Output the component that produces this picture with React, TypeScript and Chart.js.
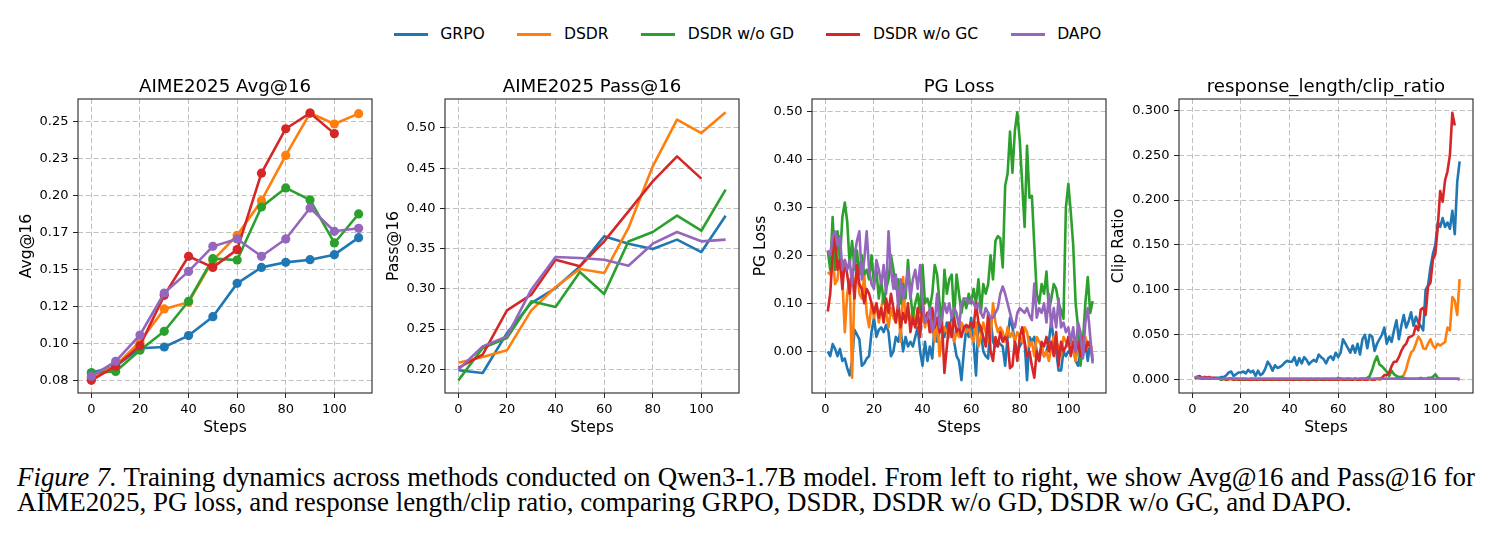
import React, { useEffect, useRef } from "react";
import { Chart, registerables } from "chart.js";

Chart.register(...registerables);

const FONT = "'DejaVu Sans', sans-serif";

const seriesNames = ["GRPO", "DSDR", "DSDR w/o GD", "DSDR w/o GC", "DAPO"];
const seriesColors = ["#1f77b4", "#ff7f0e", "#2ca02c", "#d62728", "#9467bd"];

// ---------- evaluation (every 10 steps) ----------
const evalSteps = [0, 10, 20, 30, 40, 50, 60, 70, 80, 90, 100, 110];

const avgGRPO = [0.080, 0.0845, 0.0966, 0.0975, 0.1052, 0.118, 0.1405, 0.1513, 0.1547, 0.1565, 0.1599, 0.1714];
const avgDSDR = [0.0766, 0.085, 0.101, 0.1232, 0.1277, 0.156, 0.173, 0.1964, 0.227, 0.2556, 0.2482, 0.2552];
const avgGD = [0.080, 0.081, 0.0953, 0.1081, 0.1284, 0.1572, 0.1563, 0.1921, 0.205, 0.1969, 0.1678, 0.1874];
const avgGC = [0.075, 0.0845, 0.0984, 0.1324, 0.1588, 0.1513, 0.1633, 0.215, 0.245, 0.2556, 0.2417];
const avgDAPO = [0.0777, 0.0878, 0.1056, 0.134, 0.1486, 0.1655, 0.1705, 0.1588, 0.1705, 0.1914, 0.1757, 0.1777];

const passGRPO = [0.1988, 0.1954, 0.245, 0.2824, 0.301, 0.328, 0.3653, 0.356, 0.3495, 0.3612, 0.3458, 0.391];
const passDSDR = [0.2083, 0.2153, 0.2236, 0.2733, 0.3023, 0.3247, 0.3197, 0.3757, 0.4523, 0.5103, 0.4937, 0.5194];
const passGD = [0.1863, 0.2265, 0.2389, 0.2845, 0.2775, 0.321, 0.2936, 0.359, 0.3707, 0.391, 0.3723, 0.4233];
const passGC = [0.2017, 0.2182, 0.2733, 0.2928, 0.3363, 0.328, 0.3591, 0.3964, 0.4337, 0.4647, 0.437];
const passDAPO = [0.1996, 0.2286, 0.241, 0.299, 0.3396, 0.3384, 0.3363, 0.3288, 0.3562, 0.3707, 0.3591, 0.3612];

// ---------- training (every step) ----------
const trainSteps = [
  1, 2, 3, 4, 5, 6, 7, 8, 9, 10, 11, 12, 13, 14, 15, 16, 17, 18, 19, 20,
  21, 22, 23, 24, 25, 26, 27, 28, 29, 30, 31, 32, 33, 34, 35, 36, 37, 38, 39, 40,
  41, 42, 43, 44, 45, 46, 47, 48, 49, 50, 51, 52, 53, 54, 55, 56, 57, 58, 59, 60,
  61, 62, 63, 64, 65, 66, 67, 68, 69, 70, 71, 72, 73, 74, 75, 76, 77, 78, 79, 80,
  81, 82, 83, 84, 85, 86, 87, 88, 89, 90, 91, 92, 93, 94, 95, 96, 97, 98, 99, 100,
  101, 102, 103, 104, 105, 106, 107, 108, 109, 110,
];

const pgGRPO = [
  0.0, -0.01, 0.015, 0.005, -0.01, 0.005, -0.02, -0.015, -0.035, -0.05,
  -0.02, 0.045, 0.035, 0.025, -0.03, -0.025, -0.015, -0.01, 0.04, 0.07,
  0.03, 0.045, 0.05, 0.04, 0.055, 0.04, -0.01, 0.0, 0.03, 0.02,
  0.045, 0.0, 0.03, 0.01, 0.02, 0.01, 0.03, 0.05, 0.0, -0.03,
  0.02, -0.02, 0.01, -0.015, 0.06, 0.02, 0.04, 0.05, 0.03, 0.06,
  0.03, 0.07, 0.02, -0.01, -0.02, -0.06, 0.0, 0.05, 0.03, 0.07,
  0.02, -0.05, 0.06, 0.04, 0.0, -0.01, -0.015, 0.07, 0.02, 0.01,
  0.02, 0.015, 0.01, -0.03, 0.03, 0.07, 0.05, 0.02, 0.0, 0.01,
  0.02, 0.02, -0.06, 0.03, 0.02, 0.03, 0.0, -0.02, 0.01, -0.01,
  0.0, 0.02, 0.065, 0.02, 0.0, -0.04, -0.04, 0.0, -0.01, 0.0,
  -0.005, 0.02, -0.02, -0.03, 0.0, -0.01, 0.02, -0.02, 0.02, -0.02,
];
const pgDSDR = [
  0.165, 0.16, 0.2, 0.14, 0.15, 0.2, 0.15, 0.04, 0.12, 0.15,
  -0.055, 0.14, 0.17, 0.12, 0.11, 0.16, 0.08, 0.05, 0.1, 0.07,
  0.1, 0.06, 0.09, 0.12, 0.08, 0.05, 0.09, 0.07, 0.06, 0.1,
  0.02, 0.155, 0.06, 0.08, 0.06, 0.09, 0.05, 0.07, 0.04, 0.09,
  0.05, 0.08, 0.04, 0.06, 0.02, 0.07, -0.01, 0.03, 0.05, 0.04,
  0.03, 0.06, 0.02, 0.04, 0.03, 0.06, 0.05, 0.04, 0.05, 0.03,
  0.02, 0.06, 0.01, 0.03, 0.06, 0.04, 0.02, 0.03, 0.1, 0.06,
  0.04, 0.05, 0.04, 0.02, 0.05, 0.03, 0.04, 0.02, 0.04, 0.03,
  0.02, 0.05, 0.04, 0.01, 0.02, -0.01, 0.03, 0.02, 0.01, -0.01,
  0.0, -0.02, 0.01, 0.03, 0.02, 0.01, -0.01, 0.03, 0.02, 0.01,
  0.03, 0.0, -0.02, 0.01, 0.02, 0.0, 0.03, 0.01, 0.02, -0.01,
];
const pgGD = [
  0.21, 0.17, 0.28, 0.17, 0.25, 0.19, 0.28, 0.31, 0.27, 0.18,
  0.23, 0.17, 0.21, 0.16, 0.2, 0.16, 0.17, 0.15, 0.2, 0.14,
  0.17, 0.11, 0.15, 0.1, 0.13, 0.15, 0.2, 0.17, 0.13, 0.15,
  0.1, 0.14, 0.11, 0.19, 0.12, 0.07, 0.1, 0.12, 0.08, 0.18,
  0.1, 0.11, 0.09, 0.12, 0.18, 0.16, 0.1, 0.06, 0.17, 0.12,
  0.15, 0.16, 0.07, 0.16, 0.12, 0.08, 0.11, 0.09, 0.12, 0.1,
  0.13, 0.1, 0.15, 0.08, 0.14, 0.12, 0.14, 0.2, 0.15, 0.23,
  0.24, 0.235, 0.175, 0.345, 0.37, 0.458, 0.372, 0.46, 0.498, 0.44,
  0.35, 0.259, 0.428, 0.32, 0.324, 0.22, 0.12, 0.1, 0.14, 0.12,
  0.166, 0.083, 0.11, 0.14, 0.13, 0.1, 0.085, 0.068, 0.3, 0.349,
  0.29, 0.222, 0.1, 0.05, -0.03, 0.02, 0.1, 0.155, 0.08, 0.105,
];
const pgGC = [
  0.083, 0.12, 0.2, 0.24, 0.17, 0.19, 0.13, 0.19, 0.16, 0.12,
  0.17, 0.11, 0.18, 0.14, 0.13, 0.1, 0.13, 0.12, 0.1, 0.08,
  0.1, 0.07, 0.09, 0.06, 0.11, 0.08, 0.12, 0.09, 0.06, 0.1,
  0.05, 0.08, 0.06, 0.1, 0.04, 0.07, 0.05, 0.09, 0.03, 0.11,
  0.06, 0.08, 0.04, 0.09, 0.05, 0.07, 0.04, 0.06, -0.045, 0.01,
  0.06, 0.03, 0.07, 0.04, 0.05, 0.03, 0.05, 0.055, 0.05, 0.06,
  0.05, 0.1, 0.06, 0.05, 0.03, 0.01, 0.08, 0.0, -0.02, 0.03,
  0.01, 0.04, 0.02, 0.03, 0.02, -0.035, -0.03, 0.02, -0.02, 0.03,
  0.05, 0.02, -0.01, 0.0, -0.03, -0.055, 0.0, -0.02, 0.02, 0.01,
  0.03, 0.0, 0.02, -0.01, 0.04, -0.03, 0.02, 0.0, 0.01, 0.03,
  -0.01, 0.02, 0.0, 0.02, -0.01, 0.03, 0.0, 0.02, 0.01,
];
const pgDAPO = [
  0.21, 0.2, 0.24, 0.25, 0.22, 0.24, 0.17, 0.19, 0.17, 0.19,
  0.14, 0.2, 0.23, 0.25, 0.15, 0.19, 0.25, 0.17, 0.14, 0.13,
  0.19, 0.17, 0.14, 0.18, 0.12, 0.25, 0.17, 0.13, 0.16, 0.09,
  0.15, 0.11, 0.13, 0.17, 0.11, 0.15, 0.17, 0.13, 0.18, 0.1,
  0.06, 0.07, 0.09, 0.04, 0.06, 0.12, 0.05, 0.07, 0.1, 0.08,
  0.1, 0.07, 0.09, 0.08, 0.05, 0.1, 0.11, 0.11, 0.1, 0.11,
  0.1, 0.09, 0.1, 0.08, 0.07, 0.09, 0.08, 0.07, 0.07, 0.08,
  0.09, 0.12, 0.135, 0.12, 0.1, 0.08, 0.06, 0.05, 0.08, 0.09,
  0.085, 0.08, 0.09, 0.075, 0.065, 0.141, 0.07, 0.09, 0.08, 0.1,
  0.06, 0.12, 0.05, 0.09, 0.05, 0.11, 0.05, 0.06, 0.04, 0.05,
  0.02, 0.05, 0.0, 0.06, 0.04, -0.015, 0.06, 0.09, 0.03, -0.025,
];

const clipGRPO = [
  0.002, 0.003, 0.002, 0.001, 0.003, 0.002, 0.002, 0.001, 0.002, 0.002,
  0.002, 0.003, 0.003, 0.005, 0.008, 0.009, 0.004, 0.006, 0.008, 0.008,
  0.009, 0.007, 0.011, 0.008, 0.01, 0.004, 0.01, 0.005, 0.007, 0.012,
  0.02, 0.016, 0.01, 0.016, 0.013, 0.014, 0.016, 0.019, 0.021, 0.02,
  0.02, 0.025, 0.016, 0.024, 0.018, 0.025, 0.022, 0.017, 0.02, 0.022,
  0.02, 0.028, 0.025, 0.023, 0.018, 0.024, 0.026, 0.022, 0.03, 0.025,
  0.03, 0.045, 0.04, 0.035, 0.03, 0.038, 0.03, 0.04, 0.028, 0.045,
  0.05, 0.035, 0.05, 0.048, 0.032, 0.04, 0.045, 0.05, 0.058, 0.04,
  0.048, 0.042, 0.055, 0.066, 0.045, 0.06, 0.072, 0.058, 0.065, 0.075,
  0.06, 0.07, 0.063, 0.06, 0.055, 0.1, 0.105, 0.125, 0.14, 0.15,
  0.175, 0.17, 0.18, 0.17, 0.175, 0.168, 0.188, 0.162, 0.22, 0.243,
];
const clipDSDR = [
  0.003, 0.002, 0.001, 0.001, 0.002, 0.001, 0.001, 0.001, 0.001, 0.001,
  0.001, 0.0, 0.001, 0.001, 0.0, 0.001, 0.001, 0.0, 0.001, 0.0,
  0.001, 0.0, 0.0, 0.001, 0.0, 0.001, 0.0, 0.0, 0.001, 0.0,
  0.0, 0.001, 0.0, 0.0, 0.001, 0.0, 0.0, 0.001, 0.0, 0.0,
  0.001, 0.0, 0.0, 0.001, 0.0, 0.0, 0.001, 0.0, 0.0, 0.001,
  0.0, 0.0, 0.001, 0.0, 0.0, 0.001, 0.0, 0.0, 0.001, 0.0,
  0.0, 0.001, 0.0, 0.001, 0.0, 0.0, 0.001, 0.0, 0.001, 0.0,
  0.001, 0.0, 0.001, 0.0, 0.001, 0.001, 0.0, 0.001, 0.001, 0.001,
  0.001, 0.001, 0.001, 0.002, 0.002, 0.003, 0.005, 0.012, 0.022, 0.03,
  0.033, 0.04, 0.048, 0.044, 0.035, 0.034, 0.04, 0.045, 0.038, 0.035,
  0.04, 0.038, 0.04, 0.042, 0.058, 0.055, 0.092, 0.088, 0.072, 0.112,
];
const clipGD = [
  0.001, 0.003, 0.002, 0.001, 0.001, 0.002, 0.001, 0.001, 0.001, 0.001,
  0.001, 0.0, 0.001, 0.0, 0.001, 0.001, 0.0, 0.001, 0.0, 0.0,
  0.001, 0.0, 0.0, 0.001, 0.0, 0.0, 0.001, 0.0, 0.0, 0.001,
  0.0, 0.0, 0.001, 0.0, 0.0, 0.001, 0.0, 0.0, 0.001, 0.0,
  0.0, 0.001, 0.0, 0.0, 0.001, 0.0, 0.0, 0.001, 0.0, 0.0,
  0.001, 0.0, 0.0, 0.001, 0.0, 0.0, 0.001, 0.0, 0.0, 0.002,
  0.001, 0.0, 0.001, 0.0, 0.001, 0.0, 0.001, 0.0, 0.001, 0.001,
  0.001, 0.002, 0.004, 0.011, 0.02, 0.026, 0.017, 0.015, 0.012, 0.009,
  0.004, 0.01, 0.006, 0.004, 0.003, 0.003, 0.002, 0.001, 0.001, 0.001,
  0.001, 0.001, 0.001, 0.002, 0.001, 0.001, 0.002, 0.002, 0.003, 0.006,
  0.002, 0.001, 0.001, 0.001, 0.001, 0.001, 0.001, 0.001, 0.001, 0.001,
];
const clipGC = [
  0.002, 0.003, 0.004, 0.002, 0.003, 0.002, 0.003, 0.002, 0.002, 0.001,
  0.001, 0.001, 0.001, 0.0, 0.001, 0.001, 0.0, 0.001, 0.0, 0.001,
  0.0, 0.001, 0.0, 0.0, 0.001, 0.0, 0.0, 0.001, 0.0, 0.0,
  0.001, 0.0, 0.0, 0.001, 0.0, 0.0, 0.001, 0.0, 0.0, 0.001,
  0.0, 0.0, 0.001, 0.0, 0.0, 0.001, 0.0, 0.0, 0.001, 0.0,
  0.0, 0.001, 0.0, 0.0, 0.001, 0.0, 0.0, 0.001, 0.0, 0.0,
  0.001, 0.0, 0.0, 0.001, 0.0, 0.0, 0.001, 0.0, 0.0, 0.001,
  0.0, 0.0, 0.001, 0.0, 0.0, 0.001, 0.001, 0.002, 0.005, 0.005,
  0.008, 0.015, 0.02, 0.02, 0.025, 0.032, 0.037, 0.04, 0.047, 0.048,
  0.05, 0.06, 0.055, 0.078, 0.08, 0.072, 0.104, 0.108, 0.134, 0.14,
  0.17, 0.21, 0.198, 0.222, 0.232, 0.25, 0.297, 0.283,
];
const clipDAPO = [
  0.003, 0.003, 0.002, 0.002, 0.002, 0.001, 0.002, 0.001, 0.001, 0.001,
  0.001, 0.001, 0.001, 0.001, 0.001, 0.001, 0.001, 0.001, 0.001, 0.001,
  0.001, 0.001, 0.001, 0.001, 0.001, 0.001, 0.001, 0.001, 0.001, 0.001,
  0.001, 0.001, 0.001, 0.001, 0.001, 0.001, 0.001, 0.001, 0.001, 0.001,
  0.001, 0.001, 0.001, 0.001, 0.001, 0.001, 0.001, 0.001, 0.001, 0.001,
  0.001, 0.001, 0.001, 0.001, 0.001, 0.001, 0.001, 0.001, 0.001, 0.001,
  0.001, 0.001, 0.001, 0.001, 0.001, 0.001, 0.001, 0.001, 0.001, 0.001,
  0.001, 0.001, 0.001, 0.001, 0.001, 0.001, 0.001, 0.001, 0.001, 0.001,
  0.001, 0.001, 0.001, 0.001, 0.001, 0.001, 0.001, 0.001, 0.001, 0.001,
  0.001, 0.001, 0.001, 0.001, 0.001, 0.001, 0.001, 0.001, 0.001, 0.001,
  0.001, 0.001, 0.001, 0.001, 0.001, 0.001, 0.001, 0.001, 0.001, 0.0,
];

// ---------- ticks ----------
const stepTicks = [0, 20, 40, 60, 80, 100];
const avgTicks = [0.075, 0.1, 0.125, 0.15, 0.175, 0.2, 0.225, 0.25];
const avgTickLabels = ["0.08", "0.10", "0.12", "0.15", "0.17", "0.20", "0.23", "0.25"];
const passTicks = [0.2, 0.25, 0.3, 0.35, 0.4, 0.45, 0.5];
const passTickLabels = ["0.20", "0.25", "0.30", "0.35", "0.40", "0.45", "0.50"];
const pgTicks = [0, 0.1, 0.2, 0.3, 0.4, 0.5];
const pgTickLabels = ["0.00", "0.10", "0.20", "0.30", "0.40", "0.50"];
const clipTicks = [0, 0.05, 0.1, 0.15, 0.2, 0.25, 0.3];
const clipTickLabels = ["0.000", "0.050", "0.100", "0.150", "0.200", "0.250", "0.300"];

const captionLine1Lead = "Figure 7.";
const captionLine1 = " Training dynamics across methods conducted on Qwen3-1.7B model. From left to right, we show Avg@16 and Pass@16 for";
const captionLine2 = "AIME2025, PG loss, and response length/clip ratio, comparing GRPO, DSDR, DSDR w/o GD, DSDR w/o GC, and DAPO.";

// ---------- layout constants ----------
const PLOT_TOP = 99;
const PLOT_SIZE = 294;
const YW = 75;
const TP = 28;
const XH = 52;
const RP = 8;

const titlePlugin = {
  id: "panelTitle",
  afterDraw(chart: any, _args: any, opts: any) {
    const { ctx, chartArea } = chart;
    ctx.save();
    ctx.font = `18.2px ${FONT}`;
    ctx.fillStyle = "#000";
    ctx.textAlign = "center";
    ctx.textBaseline = "alphabetic";
    ctx.fillText(opts.text, (chartArea.left + chartArea.right) / 2, chartArea.top - 6.8);
    ctx.restore();
  },
};

const framePlugin = {
  id: "frame",
  afterDatasetsDraw(chart: any) {
    const { ctx, chartArea } = chart;
    ctx.save();
    ctx.strokeStyle = "#262626";
    ctx.lineWidth = 1.1;
    ctx.setLineDash([]);
    ctx.strokeRect(chartArea.left, chartArea.top, chartArea.right - chartArea.left, chartArea.bottom - chartArea.top);
    ctx.restore();
  },
};

type PanelProps = {
  title: string;
  yLabel: string;
  steps: number[];
  series: number[][];
  markers: boolean;
  yMin: number;
  yMax: number;
  yTicks: number[];
  yTickLabels: string[];
  plotLeft: number;
  yTitlePad: number;
};

function Panel(p: PanelProps) {
  const ref = useRef<HTMLCanvasElement | null>(null);
  const W = YW + PLOT_SIZE + RP;
  const H = TP + PLOT_SIZE + XH;

  useEffect(() => {
    if (!ref.current) return;
    const gridColor = "rgba(176,176,176,0.8)";
    const chart = new Chart(ref.current, {
      type: "line",
      data: {
        datasets: p.series.map((vals, i) => ({
          label: seriesNames[i],
          data: vals.map((v, j) => ({ x: p.steps[j], y: v })),
          borderColor: seriesColors[i],
          backgroundColor: seriesColors[i],
          borderWidth: 2.6,
          borderJoinStyle: "round",
          pointRadius: p.markers ? 4.6 : 0,
          pointHoverRadius: 0,
          pointBackgroundColor: seriesColors[i],
          pointBorderWidth: 0,
          tension: 0,
          fill: false,
          order: 5 - i,
        })),
      },
      options: {
        responsive: false,
        maintainAspectRatio: false,
        animation: false,
        events: [],
        layout: { padding: { top: TP, right: RP, left: 0, bottom: 0 } },
        plugins: {
          legend: { display: false },
          tooltip: { enabled: false },
          title: { display: false },
          panelTitle: { text: p.title },
        } as any,
        scales: {
          x: {
            type: "linear",
            min: -5.5,
            max: 115.5,
            bounds: "data",
            afterBuildTicks: (s: any) => {
              s.ticks = stepTicks.map((v) => ({ value: v }));
            },
            afterFit: (s: any) => {
              s.height = XH;
            },
            ticks: {
              autoSkip: false,
              maxRotation: 0,
              padding: 3.6,
              color: "#000",
              font: { family: FONT, size: 13 },
              callback: (v: any) => String(v),
            },
            grid: {
              color: gridColor,
              lineWidth: 1,
              drawTicks: true,
              tickLength: 5,
              tickColor: "#222",
              tickWidth: 1,
            },
            border: { display: false, dash: [5, 2.8] },
            title: {
              display: true,
              text: "Steps",
              color: "#000",
              font: { family: FONT, size: 15.6 },
              padding: { top: 0, bottom: 7.6 },
            },
          },
          y: {
            type: "linear",
            min: p.yMin,
            max: p.yMax,
            bounds: "data",
            afterBuildTicks: (s: any) => {
              s.ticks = p.yTicks.map((v) => ({ value: v }));
            },
            afterFit: (s: any) => {
              s.width = YW;
            },
            ticks: {
              autoSkip: false,
              padding: 4.5,
              color: "#000",
              font: { family: FONT, size: 13 },
              callback: (_v: any, i: number) => p.yTickLabels[i],
            },
            grid: {
              color: gridColor,
              lineWidth: 1,
              drawTicks: true,
              tickLength: 5,
              tickColor: "#222",
              tickWidth: 1,
            },
            border: { display: false, dash: [5, 2.8] },
            title: {
              display: true,
              text: p.yLabel,
              color: "#000",
              font: { family: FONT, size: 15.6 },
              padding: { top: p.yTitlePad, bottom: 0 },
            },
          },
        },
      } as any,
      plugins: [titlePlugin as any, framePlugin as any],
    });
    return () => chart.destroy();
  }, []);

  return (
    <canvas
      ref={ref}
      width={W}
      height={H}
      style={{
        position: "absolute",
        left: p.plotLeft - YW,
        top: PLOT_TOP - TP,
        width: W,
        height: H,
        display: "block",
      }}
    />
  );
}

function Legend() {
  return (
    <div
      style={{
        position: "absolute",
        left: 0,
        top: 24,
        width: 1495,
        height: 20,
        display: "flex",
        justifyContent: "center",
        alignItems: "center",
        fontFamily: FONT,
        fontSize: 15.6,
        color: "#000",
      }}
    >
      {seriesNames.map((n, i) => (
        <div
          key={n}
          style={{
            display: "flex",
            alignItems: "center",
            marginRight: i < seriesNames.length - 1 ? 32.5 : 0,
          }}
        >
          <span
            style={{
              display: "inline-block",
              width: 34,
              height: 3,
              background: seriesColors[i],
              marginRight: 12.5,
            }}
          />
          <span style={{ whiteSpace: "pre" }}>{n}</span>
        </div>
      ))}
    </div>
  );
}

export default function App() {
  return (
    <div
      style={{
        position: "fixed",
        left: 0,
        top: 0,
        width: 1495,
        height: 533,
        background: "#fff",
        overflow: "hidden",
      }}
    >
      <Legend />
      <Panel
        title="AIME2025 Avg@16"
        yLabel="Avg@16"
        steps={evalSteps}
        series={[avgGRPO, avgDSDR, avgGD, avgGC, avgDAPO]}
        markers={true}
        yMin={0.0664}
        yMax={0.2651}
        yTicks={avgTicks}
        yTickLabels={avgTickLabels}
        plotLeft={78}
        yTitlePad={15}
      />
      <Panel
        title="AIME2025 Pass@16"
        yLabel="Pass@16"
        steps={evalSteps}
        series={[passGRPO, passDSDR, passGD, passGC, passDAPO]}
        markers={false}
        yMin={0.1706}
        yMax={0.536}
        yTicks={passTicks}
        yTickLabels={passTickLabels}
        plotLeft={445}
        yTitlePad={14.5}
      />
      <Panel
        title="PG Loss"
        yLabel="PG Loss"
        steps={trainSteps}
        series={[pgGRPO, pgDSDR, pgGD, pgGC, pgDAPO]}
        markers={false}
        yMin={-0.0868}
        yMax={0.5257}
        yTicks={pgTicks}
        yTickLabels={pgTickLabels}
        plotLeft={812}
        yTitlePad={15}
      />
      <Panel
        title="response_length/clip_ratio"
        yLabel="Clip Ratio"
        steps={trainSteps}
        series={[clipGRPO, clipDSDR, clipGD, clipGC, clipDAPO]}
        markers={false}
        yMin={-0.01485}
        yMax={0.3125}
        yTicks={clipTicks}
        yTickLabels={clipTickLabels}
        plotLeft={1179}
        yTitlePad={5.6}
      />
      <div
        style={{
          position: "absolute",
          left: 17,
          top: 464.75,
          width: 1458,
          fontFamily: "'Liberation Serif', 'Times New Roman', serif",
          fontSize: 26.9,
          lineHeight: "25px",
          color: "#000",
        }}
      >
        <div style={{ textAlign: "justify", textAlignLast: "justify", whiteSpace: "nowrap" } as any}>
          <i>{captionLine1Lead}</i>
          {captionLine1}
        </div>
        <div style={{ whiteSpace: "nowrap" }}>{captionLine2}</div>
      </div>
    </div>
  );
}
